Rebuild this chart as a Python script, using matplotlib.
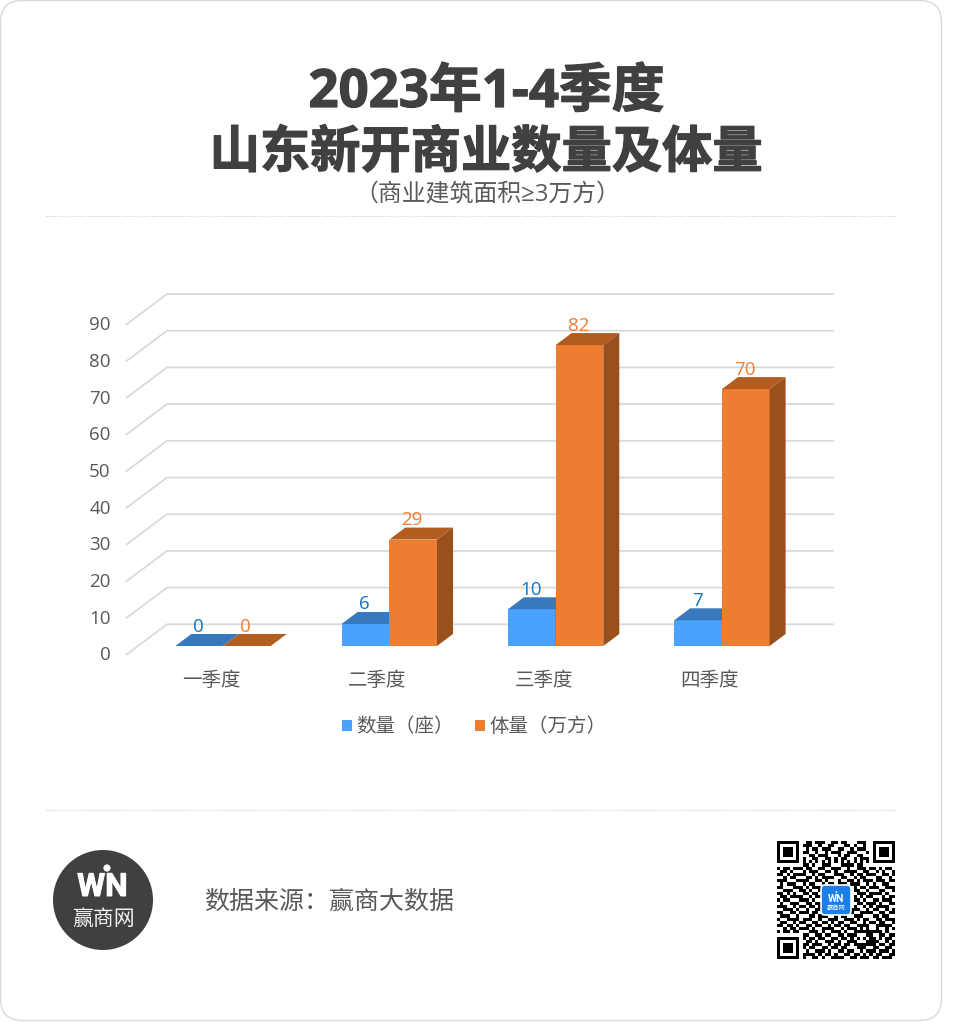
#!/usr/bin/env python3
# coding: UTF-8

import matplotlib
matplotlib.use("Agg")
import matplotlib.pyplot as plt
import matplotlib.patheffects as pe
from matplotlib.patches import Circle, FancyBboxPatch
import numpy as np

plt.rcParams['font.family'] = ['Noto Sans CJK SC', 'DejaVu Sans']

# Chart values
categories = ['一季度', '二季度', '三季度', '四季度']
count_values = [0, 6, 10, 7]
volume_values = [0, 29, 82, 70]
y_ticks = [0, 10, 20, 30, 40, 50, 60, 70, 80, 90]
count_label = '数量（座）'
volume_label = '体量（万方）'

# QR code modules
qr_rows = [
    "1111111001101110011011000111001111111",
    "1000001011100100110001101001001000001",
    "1011101001011011100110010111001011101",
    "1011101011001001011100111000101011101",
    "1011101000110111000101100110001011101",
    "1000001010011001101011001011101000001",
    "1111111010101010101010101010101111111",
    "0000000011010011100011110110000000000",
    "1011011101100110011100100111011010110",
    "0110100010111001101001111001100101001",
    "1101011110010110001110010110111001101",
    "0010110001101011110011001011000110010",
    "1110001111001101000100110101110111011",
    "0101110010110010110111011100101001100",
    "1100011101011100011001001011011100111",
    "0011100110100111000000001100100011001",
    "1101010011011000000000000111011110100",
    "0110111100101100000000001010110001011",
    "1011000111010010000000001101001101110",
    "0100111001101110000000000110111010011",
    "1110010110110100000000001001010111100",
    "0011101001001101000000011100101100101",
    "1100110111011010110110110011110011011",
    "0111001000110111001011001110001101100",
    "1001111011100100111001110101100110111",
    "0110010110011011010110011001011011001",
    "1101101001101100101101100111100111110",
    "0010110111010011110010111010100100101",
    "1011011000111010011101001111111110100",
    "0000000011001101100110111000110011011",
    "1111111010110110011011010101011010110",
    "1000001001101001110100111000111100101",
    "1011101011011100101101101111111011011",
    "1011101010110011011011000111001100110",
    "1011101001001110100110110010111011101",
    "1000001011110101101001101101010110011",
    "1111111010011010011110011011101101110",
]

# Colours
BLUE = '#4aa2ff'
BLUE_TOP = '#3878bd'
BLUE_TEXT = '#0f74c4'
ORANGE = '#ed7d31'
ORANGE_TOP = '#b25c20'
ORANGE_SIDE = '#9a501d'
GRID = '#d9d9d9'
TEXT = '#595959'
DARK = '#404040'

LATIN_CJK = ['Open Sans', 'Noto Sans CJK SC']

W, H = 956, 1022

# Pixel scale of the 3D look
PX_PER_CAT = 166.3
PX_PER_UNIT = 3.67
ZERO_X = 223    # centre of first group
ZERO_Y = 646    # floor of the bars


def px_x(px):
    return px / PX_PER_CAT


def px_y(px):
    return px / PX_PER_UNIT


fig = plt.figure(figsize=(W / 100, H / 100), dpi=100, facecolor='white')

# Page furniture, in pixel coordinates
page = fig.add_axes([0, 0, 1, 1], zorder=0)
page.set_xlim(0, W)
page.set_ylim(H, 0)
page.axis('off')

page.add_patch(FancyBboxPatch((23, 23), 896, 975, boxstyle='round,pad=22.5,rounding_size=22',
                              facecolor='white', edgecolor='#d9d9d9', linewidth=1))
for y in (216, 810):
    page.plot([46, 895], [y, y], color='#cfcfcf', linewidth=0.8, linestyle=(0, (1, 1.5)))

# Bold is thinner than the reference, so thicken it a little
heavy = [pe.withStroke(linewidth=0.9, foreground=DARK)]
page.text(486.5, 93, '2023年1-4季度', ha='center', va='center', fontsize=38,
          fontweight='bold', color=DARK, family=LATIN_CJK, path_effects=heavy)
page.text(486, 153, '山东新开商业数量及体量', ha='center', va='center', fontsize=36.2,
          fontweight='bold', color=DARK, path_effects=heavy)
page.text(487, 195, '（商业建筑面积≥3万方）', ha='center', va='center', fontsize=17.2,
          color=TEXT, family=LATIN_CJK)

page.text(204, 902, '数据来源：赢商大数据', ha='left', va='center', fontsize=18, color=TEXT)

# Logo
page.add_patch(Circle((103, 900), 50, facecolor=DARK, edgecolor='none'))
page.add_patch(Circle((107, 868), 3.6, facecolor='white', edgecolor='none'))
page.text(102.5, 887, 'WN', ha='center', va='center', fontsize=23, fontweight='bold', color='white',
          family=['Roboto', 'DejaVu Sans'], path_effects=[pe.withStroke(linewidth=0.7, foreground='white')])
page.text(103, 918.5, '赢商网', ha='center', va='center', fontsize=15, color='#f2f2f2',
          fontweight='medium')

# QR code
qr = np.array([[int(c) for c in row] for row in qr_rows])
page.imshow(1 - qr, cmap='gray', vmin=0, vmax=1, extent=(777, 895, 959, 841),
            interpolation='nearest', zorder=2, aspect='auto')
page.set_xlim(0, W)
page.set_ylim(H, 0)
page.add_patch(FancyBboxPatch((824, 888), 24, 24, boxstyle='round,pad=3,rounding_size=4',
                              facecolor='#1a7fe8', edgecolor='white', linewidth=1.2, zorder=3))
page.add_patch(Circle((836.5, 892), 0.9, facecolor='white', edgecolor='none', zorder=4))
page.text(836, 899, 'WN', ha='center', va='center', fontsize=7.5, fontweight='bold', color='white',
          family=['Roboto', 'DejaVu Sans'], zorder=4)
page.text(836, 908, '赢商网', ha='center', va='center', fontsize=4.5, color='white', zorder=4)

# Chart axes. Left edge is the front of the wall, bottom edge the front of the floor.
LEFT, RIGHT, TOP, BOTTOM = 126, 834, 280, 655
ax = fig.add_axes([LEFT / W, 1 - BOTTOM / H, (RIGHT - LEFT) / W, (BOTTOM - TOP) / H], zorder=1)
ax.patch.set_alpha(0)
ax.set_xlim(px_x(LEFT - ZERO_X), px_x(RIGHT - ZERO_X))
ax.set_ylim(px_y(ZERO_Y - BOTTOM), px_y(ZERO_Y - TOP))
for s in ax.spines.values():
    s.set_visible(False)

# Gridlines: front wall edge plus the back line
wall_x = [px_x(LEFT - ZERO_X), px_x(167 - ZERO_X), px_x(RIGHT - ZERO_X)]
front_off = px_y(ZERO_Y - 655)
back_off = px_y(ZERO_Y - 624.3)
for v in y_ticks:
    ax.plot(wall_x, [v + front_off, v + back_off, v + back_off], color=GRID, linewidth=1.3,
            zorder=1, solid_capstyle='butt', clip_on=False)

x = np.arange(len(categories))
bar_w = 47.7 / PX_PER_CAT
dx = px_x(16)
dy = px_y(12)


def draw_series(xs, values, face, top, side, text_color):
    bars = ax.bar(xs, values, width=bar_w, color=face, zorder=3, linewidth=0)
    for xc, v in zip(xs, values):
        x0, x1 = xc - bar_w / 2, xc + bar_w / 2
        ax.fill([x0, x1, x1 + dx, x0 + dx], [v, v, v + dy, v + dy], color=top, zorder=3, linewidth=0)
        if v > 0:
            ax.fill([x1, x1 + dx, x1 + dx, x1], [0, dy, v + dy, v], color=side, zorder=3, linewidth=0)
        ax.text(xc - px_x(1), v + dy + px_y(7.5), str(v), ha='center', va='center', fontsize=13.5,
                color=text_color, zorder=6, family=['Open Sans', 'DejaVu Sans'])
    return bars


blue_bars = draw_series(x - bar_w / 2, count_values, BLUE, BLUE_TOP, BLUE_TOP, BLUE_TEXT)
orange_bars = draw_series(x + bar_w / 2, volume_values, ORANGE, ORANGE_TOP, ORANGE_SIDE, ORANGE)

# Axis labels
ax.set_yticks([v + front_off + px_y(1.5) for v in y_ticks])
ax.set_yticklabels([str(v) for v in y_ticks], family=['Open Sans', 'DejaVu Sans'])
ax.set_xticks(x - px_x(12))
ax.set_xticklabels(categories)
ax.tick_params(axis='y', length=0, pad=11, labelsize=13.5, labelcolor=TEXT)
ax.tick_params(axis='x', length=0, pad=11, labelsize=14, labelcolor=TEXT)

ax.legend([blue_bars, orange_bars], [count_label, volume_label], ncol=2, frameon=False,
          loc='center', bbox_to_anchor=(474 / W, 1 - 727 / H), bbox_transform=fig.transFigure,
          fontsize=14, labelcolor=TEXT, handlelength=0.55, handleheight=0.55,
          handletextpad=0.2, columnspacing=1.08, borderpad=0)

fig.savefig('out.png', dpi=100)
